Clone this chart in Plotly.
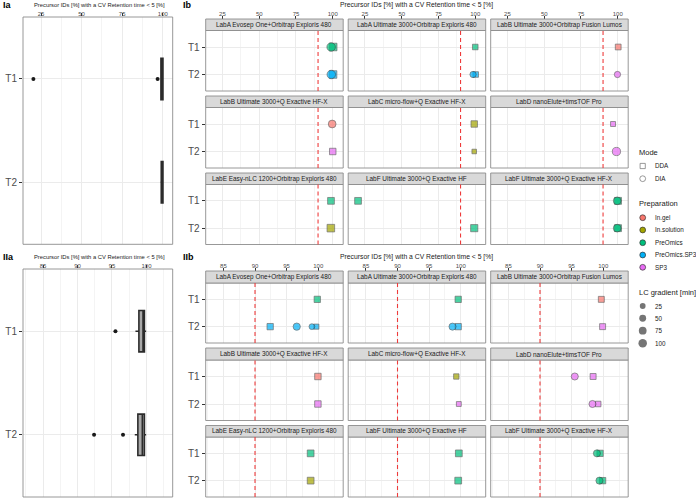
import math
import plotly.graph_objects as go

W, H = 696, 498

# ---------------- data ----------------
facet_labels = [
    "LabA Evosep One+Orbitrap Exploris 480",
    "LabA Ultimate 3000+Orbitrap Exploris 480",
    "LabB Ultimate 3000+Orbitrap Fusion Lumos",
    "LabB Ultimate 3000+Q Exactive HF-X",
    "LabC micro-flow+Q Exactive HF-X",
    "LabD nanoElute+timsTOF Pro",
    "LabE Easy-nLC 1200+Orbitrap Exploris 480",
    "LabF Ultimate 3000+Q Exactive HF",
    "LabF Ultimate 3000+Q Exactive HF-X",
]
tiers = ["T1", "T2"]
modes = ["DDA", "DIA"]
preparations = ["In.gel", "In.solution", "PreOmics", "PreOmics.SP3", "SP3"]
prep_colors = ["#F8766D", "#A3A500", "#00BF7D", "#00B0F6", "#E76BF3"]
gradient_breaks = [25, 50, 75, 100]
threshold = 90
axis_title = "Precursor IDs [%] with a CV Retention time < 5 [%]"

ticks_I = [25, 50, 75, 100]
minor_I = [37.5, 62.5, 87.5]
ticks_II = [85, 90, 95, 100]
minor_II = [82.5, 87.5, 92.5, 97.5, 102.5]

# Dataset I
i_facet = [0, 0, 0, 0, 1, 1, 1, 2, 2, 3, 3, 4, 4, 5, 5, 6, 6, 7, 7, 8, 8, 8, 8]
i_tier = ["T1", "T1", "T2", "T2", "T1", "T2", "T2", "T1", "T2", "T1", "T2", "T1", "T2",
          "T1", "T2", "T1", "T2", "T1", "T2", "T1", "T1", "T2", "T2"]
i_mode = ["DDA", "DIA", "DDA", "DIA", "DDA", "DDA", "DIA", "DDA", "DIA", "DIA", "DDA", "DDA", "DDA",
          "DDA", "DIA", "DDA", "DDA", "DDA", "DDA", "DDA", "DIA", "DDA", "DIA"]
i_prep = ["PreOmics", "PreOmics", "PreOmics.SP3", "PreOmics.SP3", "PreOmics", "PreOmics.SP3",
          "PreOmics.SP3", "In.gel", "SP3", "In.gel", "SP3", "In.solution", "In.solution", "SP3", "SP3",
          "PreOmics", "In.solution", "PreOmics", "PreOmics", "PreOmics", "PreOmics", "PreOmics", "PreOmics"]
i_value = [100.3, 98.9, 100.2, 99.0, 100.0, 100.3, 98.5, 100.3, 99.8, 99.6, 100.0, 99.3, 99.3,
           96.8, 99.1, 98.8, 98.7, 20.3, 99.3, 100.2, 99.6, 100.2, 99.6]
i_gradient = [100, 100, 100, 100, 35, 35, 35, 40, 35, 75, 60, 60, 15, 22, 90, 70, 100, 70, 85,
              75, 75, 75, 75]

# Dataset II
ii_facet = [0, 0, 0, 0, 0, 1, 1, 1, 2, 2, 3, 3, 4, 4, 5, 5, 5, 5, 6, 6, 7, 7, 8, 8, 8, 8]
ii_tier = ["T1", "T2", "T2", "T2", "T2", "T1", "T2", "T2", "T1", "T2", "T1", "T2", "T1", "T2",
           "T1", "T1", "T2", "T2", "T1", "T2", "T1", "T2", "T1", "T1", "T2", "T2"]
ii_mode = ["DDA", "DDA", "DIA", "DIA", "DDA", "DDA", "DIA", "DDA", "DDA", "DDA", "DDA", "DDA", "DDA",
           "DDA", "DIA", "DDA", "DIA", "DDA", "DDA", "DDA", "DDA", "DDA", "DIA", "DDA", "DIA", "DDA"]
ii_prep = ["PreOmics", "PreOmics.SP3", "PreOmics.SP3", "PreOmics.SP3", "PreOmics.SP3", "PreOmics",
           "PreOmics.SP3", "PreOmics.SP3", "In.gel", "SP3", "In.gel", "SP3", "In.solution", "SP3",
           "SP3", "SP3", "SP3", "SP3", "PreOmics", "In.solution", "PreOmics", "PreOmics", "PreOmics",
           "PreOmics", "PreOmics", "PreOmics"]
ii_value = [99.85, 92.4, 96.6, 99.0, 99.7, 99.6, 98.7, 99.6, 99.7, 99.9, 99.95, 99.95, 99.3, 99.7,
            95.5, 98.4, 98.3, 99.2, 98.8, 98.8, 99.7, 99.6, 99.0, 99.5, 99.4, 99.9]
ii_gradient = [55, 55, 60, 25, 25, 55, 55, 55, 45, 45, 60, 60, 30, 20, 55, 45, 55, 35, 70, 70, 70,
               70, 55, 55, 55, 55]

# ---------------- layout geometry (pixels) ----------------
FONT = "Liberation Sans, Arial, sans-serif"
GRID = "#EBEBEB"
GRID_MINOR = "#F4F4F4"
BORDER = "#8C8C8C"
TICKC = "#4D4D4D"
TEXTC = "#1A1A1A"

def fx(p):
    return p / W

def fy(p):
    return 1 - p / H

def size_px(g):
    return 3.0 + 5.5 * math.sqrt(g / 100.0)

left_x = (23.0, 172.7)
ia_y = (17.0, 244.3)
iia_y = (269.0, 497.0)
col_x = [(205.7, 343.2), (348.2, 485.7), (490.7, 628.2)]
ib_rows = [(30.5, 91.0), (107.5, 168.0), (184.5, 244.5)]
ib_strips = [(19.0, 30.5), (96.0, 107.5), (173.0, 184.5)]
iib_rows = [(283.0, 343.0), (360.0, 420.5), (437.0, 497.0)]
iib_strips = [(271.0, 283.0), (348.0, 360.0), (425.5, 437.0)]
range_Ia = [13.9, 106.1]
range_IIa = [82.1, 103.8]
range_Ib = [13.6, 107.1]
range_IIb = [82.2, 103.95]

fig = go.Figure()
layout = dict(width=W, height=H, margin=dict(l=0, r=0, t=0, b=0),
              paper_bgcolor="white", plot_bgcolor="rgba(0,0,0,0)", showlegend=False,
              font=dict(family=FONT, color=TICKC))
shapes = []
annotations = []


def nm(prefix, n):
    return prefix if n == 1 else f"{prefix}{n}"


def set_xaxis(n, dom, rng, major, minor, labels, anchor=None, position=None, fsize=6,
              standoff=0):
    cfg = dict(domain=[fx(dom[0]), fx(dom[1])], range=rng, side="top",
               showgrid=True, gridcolor=GRID, gridwidth=0.8, zeroline=False, showline=False,
               tickmode="array", tickvals=major, ticktext=[str(v) for v in major],
               minor=dict(tickmode="array", tickvals=minor, showgrid=True,
                          gridcolor=GRID_MINOR, gridwidth=0.5, ticks=""),
               fixedrange=True)
    if labels:
        cfg.update(ticks="outside", ticklen=3, tickwidth=0.7, tickcolor="#333333",
                   showticklabels=True, ticklabelstandoff=standoff,
                   tickfont=dict(size=fsize, color=TICKC, family=FONT))
    else:
        cfg.update(ticks="", showticklabels=False)
    if position is not None:
        cfg.update(anchor="free", position=position)
    else:
        cfg.update(anchor=anchor)
    layout[nm("xaxis", n)] = cfg


def set_yaxis(n, dom, labels, anchor):
    cfg = dict(domain=[fy(dom[1]), fy(dom[0])], type="category", categoryorder="array",
               categoryarray=tiers, range=[1.6, -0.6], showgrid=True, gridcolor=GRID,
               gridwidth=0.8, zeroline=False, showline=False, anchor=anchor, fixedrange=True)
    if labels:
        cfg.update(ticks="outside", ticklen=3, tickwidth=0.7, tickcolor="#333333",
                   showticklabels=True, tickfont=dict(size=10, color=TICKC, family=FONT))
    else:
        cfg.update(ticks="", showticklabels=False)
    layout[nm("yaxis", n)] = cfg


def border(n):
    shapes.append(dict(type="rect", xref=f"{nm('x', n)} domain", yref=f"{nm('y', n)} domain",
                       x0=0, x1=1, y0=0, y1=1, line=dict(color=BORDER, width=0.9),
                       fillcolor="rgba(0,0,0,0)", layer="above"))


# ---------------- Ia / IIa boxplots ----------------
def add_box(n, values, tier_list, dom_y, rng, major, minor, title_y):
    set_xaxis(n, left_x, rng, major, minor, True, anchor=nm("y", n), fsize=6, standoff=-5)
    set_yaxis(n, dom_y, True, nm("x", n))
    border(n)
    for t in tiers:
        vals = [v for v, tt in zip(values, tier_list) if tt == t]
        fig.add_trace(go.Box(x=vals, y=[t] * len(vals), orientation="h",
                             xaxis=nm("x", n), yaxis=nm("y", n), width=0.4,
                             boxpoints="outliers", whiskerwidth=0, quartilemethod="inclusive",
                             fillcolor="#A8A8A8", line=dict(color="#2B2B2B", width=1.6),
                             marker=dict(color="#1A1A1A", size=4, line=dict(width=0)),
                             hoverinfo="skip", showlegend=False))
    annotations.append(dict(text=axis_title, xref="paper", yref="paper",
                            x=fx((left_x[0] + left_x[1]) / 2 + 2), y=fy(title_y),
                            showarrow=False, font=dict(size=5.8, color=TEXTC, family=FONT),
                            xanchor="center", yanchor="middle"))


add_box(1, i_value, i_tier, ia_y, range_Ia, ticks_I, minor_I, 5.0)
add_box(2, ii_value, ii_tier, iia_y, range_IIa, ticks_II, minor_II, 256.7)


# ---------------- Ib / IIb facets ----------------
def add_facets(offset, facet, tier, mode, prep, value, grad, rows, strips, rng, major, minor,
               title_y):
    for f in range(9):
        n = offset + f
        r, c = divmod(f, 3)
        top = r == 0
        set_xaxis(n, col_x[c], rng, major, minor, top,
                  position=fy(strips[0][0]) if top else None,
                  anchor=None if top else nm("y", n), fsize=6, standoff=-2)
        set_yaxis(n, rows[r], c == 0, nm("x", n))
        border(n)
        # strip
        shapes.append(dict(type="rect", xref=f"{nm('x', n)} domain", yref="paper",
                           x0=0, x1=1, y0=fy(strips[r][1]), y1=fy(strips[r][0]),
                           fillcolor="#D9D9D9", line=dict(color=BORDER, width=0.9),
                           layer="above"))
        annotations.append(dict(text=facet_labels[f], xref=f"{nm('x', n)} domain", yref="paper",
                                x=0.5, y=fy((strips[r][0] + strips[r][1]) / 2),
                                showarrow=False, xanchor="center", yanchor="middle",
                                font=dict(size=6.4, color=TEXTC, family=FONT)))
        # threshold line
        shapes.append(dict(type="line", xref=nm("x", n), yref=f"{nm('y', n)} domain",
                           x0=threshold, x1=threshold, y0=0, y1=1,
                           line=dict(color="#EE3B3B", width=1.1, dash="4px,3px"),
                           layer="above"))
        for m, sym, scale in [("DDA", "square", 0.89), ("DIA", "circle", 1.0)]:
            idx = [k for k in range(len(value)) if facet[k] == f and mode[k] == m]
            if not idx:
                continue
            fig.add_trace(go.Scatter(
                x=[value[k] for k in idx], y=[tier[k] for k in idx],
                xaxis=nm("x", n), yaxis=nm("y", n), mode="markers", cliponaxis=False,
                marker=dict(symbol=sym, size=[size_px(grad[k]) * scale for k in idx],
                            color=[prep_colors[preparations.index(prep[k])] for k in idx],
                            line=dict(color="#333333", width=0.7)),
                hoverinfo="skip", showlegend=False))
    annotations.append(dict(text=axis_title, xref="paper", yref="paper",
                            x=fx((col_x[0][0] + col_x[2][1]) / 2), y=fy(title_y),
                            showarrow=False, font=dict(size=6.8, color=TEXTC, family=FONT),
                            xanchor="center", yanchor="middle"))


add_facets(3, i_facet, i_tier, i_mode, i_prep, i_value, i_gradient, ib_rows, ib_strips,
           range_Ib, ticks_I, minor_I, 5.0)
add_facets(12, ii_facet, ii_tier, ii_mode, ii_prep, ii_value, ii_gradient, iib_rows, iib_strips,
           range_IIb, ticks_II, minor_II, 257.0)

# ---------------- panel labels ----------------
for txt, px, py in [("Ia", 1, 4.5), ("Ib", 181, 4.5), ("IIa", 1, 256.5), ("IIb", 181, 257.0)]:
    annotations.append(dict(text=f"<b>{txt}</b>", xref="paper", yref="paper", x=fx(px), y=fy(py),
                            showarrow=False, xanchor="left", yanchor="middle",
                            font=dict(size=9, color="#000000", family=FONT)))

# ---------------- legend (manual) ----------------
LN = 21
leg_x = (632.0, 696.0)
leg_y = (140.0, 352.0)
layout[nm("xaxis", LN)] = dict(domain=[fx(leg_x[0]), fx(leg_x[1])], range=list(leg_x),
                               visible=False, fixedrange=True, anchor=nm("y", LN))
layout[nm("yaxis", LN)] = dict(domain=[fy(leg_y[1]), fy(leg_y[0])], range=[leg_y[1], leg_y[0]],
                               visible=False, fixedrange=True, anchor=nm("x", LN))
key_x = 642.7
text_x = 652.7
title_x = 636.5
mode_y = [166.0, 178.7]
prep_y = [217.7, 230.0, 242.7, 255.0, 267.3]
grad_y = [306.0, 318.3, 330.7, 343.3]

fig.add_trace(go.Scatter(x=[key_x] * len(modes), y=mode_y, xaxis=nm("x", LN), yaxis=nm("y", LN),
                         mode="markers", cliponaxis=False, hoverinfo="skip", showlegend=False,
                         marker=dict(symbol=["square", "circle"], size=[5.2, 5.8], color="white",
                                     line=dict(color="#333333", width=0.7))))
fig.add_trace(go.Scatter(x=[key_x] * len(preparations), y=prep_y, xaxis=nm("x", LN),
                         yaxis=nm("y", LN), mode="markers", cliponaxis=False, hoverinfo="skip",
                         showlegend=False,
                         marker=dict(symbol="circle", size=5.8, color=prep_colors,
                                     line=dict(color="#333333", width=0.7))))
fig.add_trace(go.Scatter(x=[key_x] * len(gradient_breaks), y=grad_y, xaxis=nm("x", LN),
                         yaxis=nm("y", LN), mode="markers", cliponaxis=False, hoverinfo="skip",
                         showlegend=False,
                         marker=dict(symbol="circle", size=[size_px(g) for g in gradient_breaks],
                                     color="#3A3A3A", line=dict(width=0))))

for title, ty in [("Mode", 152.7), ("Preparation", 204.0), ("LC gradient [min]", 292.7)]:
    annotations.append(dict(text=title, xref=nm("x", LN), yref=nm("y", LN), x=title_x, y=ty,
                            showarrow=False, xanchor="left", yanchor="middle",
                            font=dict(size=7.5, color=TEXTC, family=FONT)))
for labels, ys in [(modes, mode_y), (preparations, prep_y),
                   ([str(g) for g in gradient_breaks], grad_y)]:
    for lab, ty in zip(labels, ys):
        annotations.append(dict(text=lab, xref=nm("x", LN), yref=nm("y", LN), x=text_x, y=ty,
                                showarrow=False, xanchor="left", yanchor="middle",
                                font=dict(size=6.3, color=TEXTC, family=FONT)))

layout["shapes"] = shapes
layout["annotations"] = annotations
fig.update_layout(**layout)
fig.write_html("out.html", config={"displayModeBar": False},
               post_script="document.body.style.margin='0px';document.body.style.overflow='hidden';")
